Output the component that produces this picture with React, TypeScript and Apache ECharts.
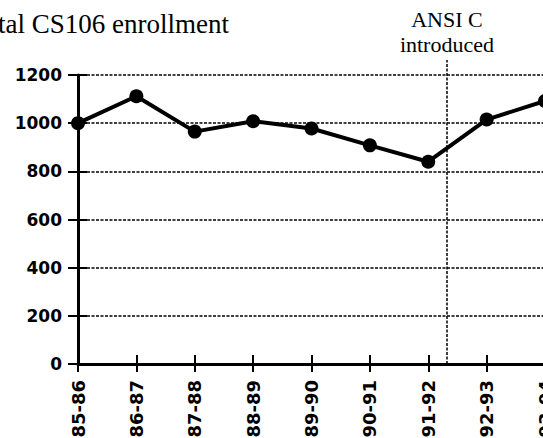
import React, { useEffect, useRef } from "react";
import * as echarts from "echarts";

const categories = ["85-86", "86-87", "87-88", "88-89", "89-90", "90-91", "91-92", "92-93", "93-94"];
const enrollment = [1000, 1112, 965, 1008, 978, 908, 840, 1015, 1092];
const yMin = 0;
const yMax = 1200;
const yInterval = 200;
const ansiPosition = 6.32;
const titleText = "Total CS106 enrollment";
const annotationText = "ANSI C\nintroduced";

const axisFont = { fontFamily: "DejaVu Sans", fontWeight: "bold" as const, color: "#000" };
const serif = "Liberation Serif";
const dotted = { color: "#000", width: 1.5, type: [3, 1.5] as number[] };

export default function App() {
  const ref = useRef<HTMLDivElement>(null);
  useEffect(() => {
    if (!ref.current) return;
    const chart = echarts.init(ref.current, undefined, { renderer: "svg" });
    chart.setOption({
      animation: false,
      backgroundColor: "#fff",
      title: {
        text: titleText,
        left: -30,
        top: 10,
        padding: 0,
        textStyle: { fontFamily: serif, fontWeight: "normal", fontSize: 27, color: "#000" },
      },
      grid: { left: 78, right: 2, top: 75, bottom: 74, containLabel: false, outerBoundsMode: "none" },
      xAxis: [
        {
          type: "category",
          data: categories,
          boundaryGap: false,
          position: "bottom",
          axisLine: { show: true, lineStyle: { color: "#000", width: 3 } },
          axisTick: { show: true, length: 8, lineStyle: { color: "#000", width: 2 } },
          axisLabel: { ...axisFont, fontSize: 18, rotate: 90, margin: 16 },
          splitLine: { show: false },
        },
        {
          type: "category",
          data: categories,
          boundaryGap: false,
          position: "bottom",
          axisLine: { show: false },
          axisTick: { show: true, inside: true, length: 9, lineStyle: { color: "#000", width: 2 } },
          axisLabel: { show: false },
          splitLine: { show: false },
        },
        { type: "value", min: 0, max: categories.length - 1, show: false },
      ],
      yAxis: [
        {
          type: "value",
          min: yMin,
          max: yMax,
          interval: yInterval,
          position: "left",
          axisLine: { show: true, lineStyle: { color: "#000", width: 3 } },
          axisTick: { show: true, length: 10, lineStyle: { color: "#000", width: 2 } },
          axisLabel: { ...axisFont, fontSize: 17, margin: 16, formatter: (v: number) => String(v) },
          splitLine: { show: true, lineStyle: dotted },
        },
        {
          type: "value",
          min: yMin,
          max: yMax,
          interval: yInterval,
          position: "left",
          axisLine: { show: false },
          axisTick: { show: true, inside: true, length: 9, lineStyle: { color: "#000", width: 2 } },
          axisLabel: { show: false },
          splitLine: { show: false },
        },
      ],
      series: [
        {
          type: "line",
          xAxisIndex: 0,
          yAxisIndex: 0,
          data: enrollment,
          symbol: "circle",
          symbolSize: 14,
          clip: false,
          lineStyle: { color: "#000", width: 4 },
          itemStyle: { color: "#000" },
          z: 5,
        },
        {
          type: "line",
          xAxisIndex: 2,
          yAxisIndex: 0,
          data: [],
          markLine: {
            silent: true,
            symbol: "none",
            lineStyle: dotted,
            label: {
              show: true,
              position: "end",
              distance: 3,
              formatter: annotationText,
              fontFamily: serif,
              fontSize: 22,
              lineHeight: 25,
              color: "#000",
            },
            data: [[{ xAxis: ansiPosition, yAxis: yMin }, { xAxis: ansiPosition, yAxis: yMax, y: 60 }]],
          },
        },
      ],
    });
    return () => chart.dispose();
  }, []);
  return (
    <div style={{ position: "fixed", left: 0, top: 0, width: 543, height: 438, overflow: "hidden", background: "#fff" }}>
      <div ref={ref} style={{ width: 547, height: 438 }} />
    </div>
  );
}
